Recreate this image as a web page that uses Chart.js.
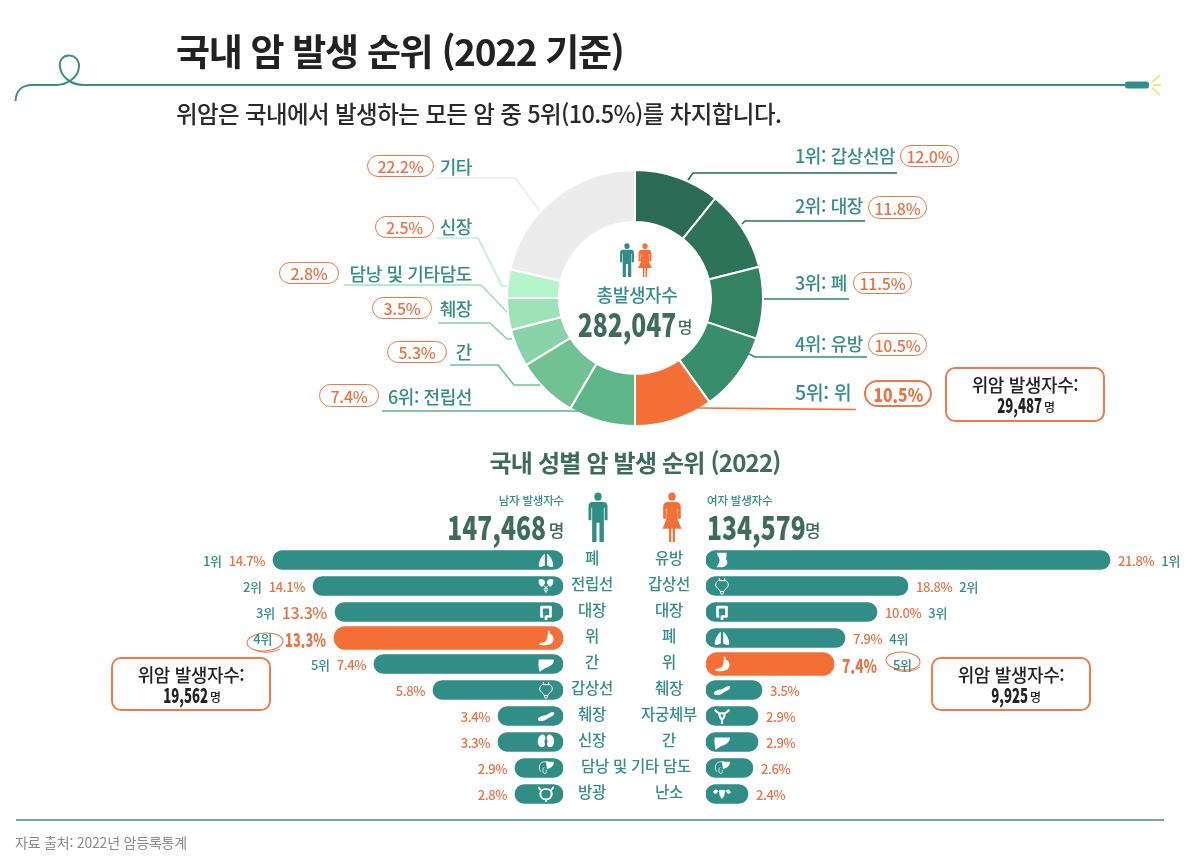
<!DOCTYPE html>
<html lang="ko">
<head>
<meta charset="utf-8">
<title>국내 암 발생 순위 (2022 기준)</title>
<script src="https://cdn.jsdelivr.net/npm/chart.js@4"></script>
<style>
html, body { margin: 0; padding: 0; background: #fff; }
#page { position: relative; width: 1186px; height: 863px; overflow: hidden; background: #fff;
        font-family: 'Noto Sans CJK KR', 'Noto Sans', sans-serif; }
#page canvas, #page svg.layer { position: absolute; }
.t { position: absolute; white-space: nowrap; line-height: 1; }
.pill, .box { position: absolute; box-sizing: border-box; background: #fff; text-align: center; }
.pill { display: flex; align-items: center; justify-content: center; border: 1.3px solid #ea7a47;
        border-radius: 12px; color: #ea7345; font-size: 16px; font-weight: 500; letter-spacing: -.2px; }
.pill.hot { border-width: 2px; border-radius: 14px; font-size: 18.5px; font-weight: 900; letter-spacing: 0; }
.pill.hot span { display: inline-block; transform: scaleX(.85); }
.box { border: 2px solid #ec7c4a; border-radius: 10px; color: #222; }
</style>
</head>
<body>
<div id="page"></div>
<script>
'use strict';
// ring: labels and printed shares, plus the arc each slice really occupies in the picture
// (the printed shares and the drawn arcs differ in the source, so both are kept)
const ringLabels = ['1위: 갑상선암', '2위: 대장', '3위: 폐', '4위: 유방', '5위: 위', '6위: 전립선', '간', '췌장', '담낭 및 기타담도', '신장', '기타'];
const ringShares = [12.0, 11.8, 11.5, 10.5, 10.5, 7.4, 5.3, 3.5, 2.8, 2.5, 22.2];
const ringArcs = [38.9, 37.0, 32.6, 35.9, 35.6, 30.4, 28.0, 17.1, 14.5, 13.0, 77.0];
const ringColors = ['#2b6a55', '#2c7359', '#338363', '#378d6c', '#f47036', '#5fb58a', '#72c192', '#88d3a7', '#9de3b8', '#b4f5cb', '#ececec'];

// men: bar lengths are read off the picture, they are not proportional to the printed %
const maleCancers = ['폐', '전립선', '대장', '위', '간', '갑상선', '췌장', '신장', '담낭 및 기타 담도', '방광'];
const maleShares = [14.7, 14.1, 13.3, 13.3, 7.4, 5.8, 3.4, 3.3, 2.9, 2.8];
const maleLengths = [290, 250, 228, 229, 189, 130, 65, 65, 48, 48];
const maleIcons = ['lung', 'prostate', 'colon', 'stomach', 'liver', 'thyroid', 'pancreas', 'kidney', 'gall', 'bladder'];

// women
const femaleCancers = ['유방', '갑상선', '대장', '폐', '위', '췌장', '자궁체부', '간', '', '난소'];
const femaleShares = [21.8, 18.8, 10.0, 7.9, 7.4, 3.5, 2.9, 2.9, 2.6, 2.4];
const femaleLengths = [404, 202, 171, 139, 128, 56, 52, 52, 47, 42];
const femaleIcons = ['breast', 'thyroid', 'colon', 'lung', 'stomach', 'pancreas', 'uterus', 'liver', 'gall', 'ovary'];

const TEAL = '#358d88', BAR_TEAL = '#308e87', ORANGE = '#f47036', TEXT_ORANGE = '#ea7345', DARK = '#3d6b5d';
const page = document.getElementById('page');

function txt(text, x, y, o) {
    o = o || {};
    let el = document.createElement('div');
    el.className = 't';
    el.textContent = text;
    el.style.left = x + 'px';
    el.style.top = y + 'px';
    el.style.fontSize = (o.size || 16) + 'px';
    el.style.fontWeight = o.weight || 500;
    el.style.color = o.color || TEAL;
    el.style.letterSpacing = (o.spacing !== undefined ? o.spacing : -0.3) + 'px';
    let shift = o.align === 'right' ? '-100%' : o.align === 'center' ? '-50%' : '0';
    el.style.transformOrigin = o.align === 'right' ? '100% 50%' : o.align === 'center' ? '50% 50%' : '0 50%';
    el.style.transform = 'translate(' + shift + ',-50%)' + (o.stretch ? ' scaleX(' + o.stretch + ')' : '');
    page.appendChild(el);
    return el;
}

// condensed heavy numbers: no narrow font is installed, so squeeze the black weight
function heavy(text, x, y, size, stretch, color, align) {
    return txt(text, x, y, { size: size, stretch: stretch, color: color, align: align, weight: 900, spacing: 0 });
}

function pill(text, x0, y0, x1, y1, hot) {
    let el = document.createElement('div');
    el.className = 'pill' + (hot ? ' hot' : '');
    let inner = document.createElement('span');
    inner.textContent = text;
    el.appendChild(inner);
    el.style.cssText = 'left:' + x0 + 'px;top:' + y0 + 'px;width:' + (x1 - x0) + 'px;height:' + (y1 - y0) + 'px;';
    page.appendChild(el);
}

function calloutBox(x0, y0, w, h, count) {
    let el = document.createElement('div');
    el.className = 'box';
    el.style.cssText = 'left:' + x0 + 'px;top:' + y0 + 'px;width:' + w + 'px;height:' + h + 'px;';
    page.appendChild(el);
    txt('위암 발생자수:', x0 + w / 2, y0 + 17, { align: 'center', size: 18, color: '#222', spacing: -0.4 });
    heavy(count, x0 + w / 2 + 17, y0 + 38, 20, 0.66, '#222', 'right');
    txt('명', x0 + w / 2 + 19, y0 + 40, { size: 12, color: '#222' });
}

function addCanvas(left, top, w, h) {
    let c = document.createElement('canvas');
    c.width = w;
    c.height = h;
    c.style.left = left + 'px';
    c.style.top = top + 'px';
    c.style.width = w + 'px';
    c.style.height = h + 'px';
    page.appendChild(c);
    return c;
}

// header, footer and all the leader lines live on one svg layer
const lines = [
    ['M688 180L693 173H897', '#2b6a55'], ['M742 224L745 221H865', '#2c7359'], ['M764 299H849', '#338363'],
    ['M735 347L755 357H867', '#378d6c'], ['M698 408L856 409.5', ORANGE],
    ['M382 411H578', '#5fb58a'], ['M450 365H498L514 385H540', '#72c192'], ['M438 323H490L507 339H512', '#88d3a7'],
    ['M344 285H481L507 312', '#9de3b8'], ['M437 238H478L502 286H507', '#b4f5cb'], ['M436 178H515L540 211', '#ececec']
];

const icons = {
    lung: '<path d="M8.7 3C5.5 5 2 11 2 16c0 2 2 2.300 4 1.300l2.700-1.300zM11.300 3c3.200 2 6.700 8 6.700 13 0 2-2 2.300-4 1.300l-2.700-1.300z"/>',
    prostate: '<path d="M2 3c3-2 7 0 7 3 0 3-3 2-3 5-2 0-5-4-4-8zM18 3c-3-2-7 0-7 3 0 3 3 2 3 5 2 0 5-4 4-8z"/><path d="M7 9l3 3 3-3M10 12v6" stroke="#fff" fill="none"/><circle cx="10" cy="14" r="2" fill="none" stroke="#fff"/>',
    colon: '<path d="M10 19v-4h5V4.500H5V15h2" fill="none" stroke="#fff" stroke-width="3" stroke-linejoin="round"/>',
    stomach: '<path d="M12 2h2v3c3 1 5 4 4 8-1 4-6 5-10 5-2 0-5 0-6-1 2-3 6-1 8-4 2-3 2-6 2-11z"/>',
    liver: '<path d="M2 5h17c0 4-3 7-8 9-3 1-6 3-8 5-1-4-2-9-1-14z"/>',
    thyroid: '<path d="M7 1v3h6V1M6 4c-2 1-3 3-3 5 0 3 4 4 5 7h4c1-3 5-4 5-7 0-2-1-4-3-5zM8 16l1 3h2l1-3" fill="none" stroke="#fff" stroke-width="1.100"/>',
    pancreas: '<path d="M1 13c3-4 8-3 11-5s6-3 7-2-1 4-4 5c-3 1-4 3-7 4-3 1-8 1-7-2z"/>',
    kidney: '<path d="M5 2c3-1 5 2 4 5-1 2-1 3 0 5 0 3-3 5-6 3C0 12 0 4 5 2zM15 2c-3-1-5 2-4 5 1 2 1 3 0 5 0 3 3 5 6 3 3-3 3-11-2-13z"/>',
    gall: '<path d="M4 14C1 9 3 3 9 3h3M8 9c-2 2-2 6 0 7s3-2 2-4" fill="none" stroke="#fff" stroke-width=".9"/><path d="M10 3h9c0 4-3 7-8 8z"/>',
    bladder: '<path d="M2 2c0 3 2 3 3 4 3-2 7-2 10 0 1-1 3-1 3-4M5 6c-3 4-1 10 5 10s8-6 5-10M10 16v3" fill="none" stroke="#fff" stroke-width="2"/>',
    breast: '<path d="M4 2h11v5c-2 2 1 3 1 6 0 3-4 5-6 5H4c2-3 4-6 3-9-1-3-2-4-3-7z"/>',
    uterus: '<path d="M2 3c2 3 3 3 5 4h6c2-1 3-1 5-4M7 7c0 4 1 5 2 6h2c1-1 2-2 2-6M10 13v6" fill="none" stroke="#fff" stroke-width="2.400"/>',
    ovary: '<path d="M7 6l1 6 2 3 2-3 1-6zM6 7C4 5 2 5 1 7s2 3 3 2M14 7c2-2 4-2 5 0s-2 3-3 2" fill="#fff" stroke="#fff"/>'
};

function drawIcon(name, cx, cy) {
    let s = document.createElementNS('http://www.w3.org/2000/svg', 'svg');
    s.setAttribute('class', 'layer');
    s.setAttribute('viewBox', '0 0 20 20');
    s.setAttribute('width', 18);
    s.setAttribute('height', 18);
    s.setAttribute('fill', '#fff');
    s.style.left = (cx - 9) + 'px';
    s.style.top = (cy - 9) + 'px';
    s.innerHTML = icons[name];
    page.appendChild(s);
}

function personSvg(left, top, w, h, female, color) {
    let s = document.createElementNS('http://www.w3.org/2000/svg', 'svg');
    s.setAttribute('class', 'layer');
    s.setAttribute('viewBox', '0 0 30 60');
    s.setAttribute('preserveAspectRatio', 'none');
    s.setAttribute('width', w);
    s.setAttribute('height', h);
    s.setAttribute('fill', color);
    s.style.left = left + 'px';
    s.style.top = top + 'px';
    s.innerHTML = '<circle cx="15" cy="5.500" r="5"/>' + (female
        ? '<path d="M9 12h12c4 0 6 3 6 6v14h-4V20h-1l1 14 5 10H19v16h-3V44h-2v16h-3V44H2l5-10 1-14H7v12H3V18c0-3 2-6 6-6z"/>'
        : '<path d="M7 12h16c3 0 5 2 5 5v17h-4V19h-1v41h-6V37h-4v23H7V19H6v15H2V17c0-3 2-5 5-5z"/>');
    page.appendChild(s);
}

// doughnut
new Chart(addCanvas(506, 169, 258, 258).getContext('2d'), {
    type: 'doughnut',
    data: {
        labels: ringLabels,
        datasets: [{ data: ringArcs, backgroundColor: ringColors, borderColor: '#fff', borderWidth: 2 }]
    },
    options: {
        responsive: false,
        animation: false,
        cutout: 76,
        plugins: { legend: { display: false }, tooltip: { enabled: false } }
    }
});

function barChart(left, width, lengths, labels, hot, reverse) {
    return new Chart(addCanvas(left, 547, width, 260).getContext('2d'), {
        type: 'bar',
        data: {
            labels: labels,
            datasets: [
                { data: lengths.map((v, i) => i === hot ? null : v), backgroundColor: BAR_TEAL, barThickness: 19, borderRadius: 10, borderSkipped: false },
                { data: lengths.map((v, i) => i === hot ? v : null), backgroundColor: ORANGE, barThickness: 23, borderRadius: 12, borderSkipped: false }
            ]
        },
        options: {
            indexAxis: 'y',
            responsive: false,
            animation: false,
            layout: { padding: 0 },
            scales: {
                x: { display: false, min: 0, max: width, reverse: reverse },
                y: { display: false, stacked: false },
            },
            datasets: { bar: { grouped: false } },
            plugins: { legend: { display: false }, tooltip: { enabled: false } }
        }
    });
}

const MALE_LEFT = 163, FEMALE_LEFT = 706, BARS_TOP = 547;
const maleChart = barChart(MALE_LEFT, 400, maleLengths, maleCancers, 3, true);
const femaleChart = barChart(FEMALE_LEFT, 410, femaleLengths, femaleCancers, 4, false);

// svg layer goes after the canvases so that the leaders sit on top of the ring
const layer = document.createElementNS('http://www.w3.org/2000/svg', 'svg');
layer.setAttribute('class', 'layer');
layer.setAttribute('width', 1186);
layer.setAttribute('height', 863);
layer.style.left = '0';
layer.style.top = '0';
let svgHtml = '<path d="M15.500 101C16 91 22 85 32 85H56C66 85 79 78 79 66 79 59 74 55.500 69 55.500 63 55.500 59 60 60 67 61 76 70 85 84 85H1126" fill="none" stroke="#3a8c87" stroke-width="2"/>' +
    '<rect x="1125" y="81.500" width="24" height="7" rx="2.500" fill="#2f8f88"/>' +
    '<path d="M1152 82L1160 75M1153 85H1161M1152 88L1160 95" stroke="#efe58a" stroke-width="2"/>' +
    '<path d="M16 820H1164" stroke="#3a8c87" stroke-width="1.500"/>' +
    '<ellipse cx="265" cy="642" rx="18" ry="9" fill="none" stroke="#ea7345" transform="rotate(-4 265 642)"/><path d="M255 650C262 653 272 653 280 649" fill="none" stroke="#ea7345"/>' +
    '<ellipse cx="903" cy="661" rx="17" ry="9" fill="none" stroke="#ea7345" transform="rotate(4 903 661)"/><path d="M894 669C902 673 912 672 920 667" fill="none" stroke="#ea7345"/>';
lines.forEach(l => { svgHtml += '<path d="' + l[0] + '" fill="none" stroke="' + l[1] + '" stroke-width="1.600"/>'; });
layer.innerHTML = svgHtml;
page.appendChild(layer);

// header
txt('국내 암 발생 순위 (2022 기준)', 176, 50, { size: 37, weight: 700, color: '#222', spacing: -1.3 });
txt('위암은 국내에서 발생하는 모든 암 중 5위(10.5%)를 차지합니다.', 176, 114, { size: 23.500, color: '#2a2a2a', spacing: -0.6 });

// ring labels
const ringLabelPos = [[795, 155], [795, 205], [795, 282], [795, 343], [795, 392], [472, 396], [472, 351], [472, 308], [472, 273], [472, 226], [472, 166]];
const ringPillPos = [[900, 145, 959, 167], [868, 196, 927, 219], [853, 272, 912, 294], [868, 333, 927, 356], [864, 380, 932, 407],
    [319, 384, 379, 407], [387, 341, 447, 363], [372, 297, 432, 319], [279, 262, 339, 284], [375, 216, 434, 238], [367, 155, 434, 177]];
ringLabels.forEach((name, i) => {
    txt(name, ringLabelPos[i][0], ringLabelPos[i][1], { size: i === 4 ? 19.500 : 18, align: i >= 5 ? 'right' : 'left', spacing: -0.4 });
    let p = ringPillPos[i];
    pill(ringShares[i].toFixed(1) + '%', p[0], p[1], p[2], p[3], i === 4);
});
calloutBox(945, 367, 160, 55, '29,487');

// middle of the ring
personSvg(619, 243, 16, 34, false, BAR_TEAL);
personSvg(637, 243, 16, 34, true, ORANGE);
txt('총발생자수', 637, 294, { size: 18, align: 'center', spacing: -0.4 });
heavy('282,047', 627, 323, 32, 0.77, DARK, 'center');
txt('명', 685, 326, { size: 16, align: 'center', color: DARK });

// second part
txt('국내 성별 암 발생 순위 (2022)', 635, 462, { size: 24, weight: 700, color: DARK, align: 'center', spacing: -0.8 });
txt('남자 발생자수', 564, 501, { size: 11.500, align: 'right', spacing: -0.2 });
heavy('147,468', 546, 526, 32, 0.77, DARK, 'right');
txt('명', 564, 529, { size: 17, align: 'right', color: DARK });
txt('여자 발생자수', 707, 501, { size: 11.500, spacing: -0.2 });
heavy('134,579', 707, 526, 32, 0.77, DARK);
txt('명', 805, 529, { size: 17, color: DARK });
personSvg(587, 492, 22, 50, false, BAR_TEAL);
personSvg(661, 492, 22, 50, true, ORANGE);
calloutBox(111, 657, 160, 54, '19,562');
calloutBox(931, 657, 160, 54, '9,925');

function rowLabels(chart, lengths, shares, iconNames, names, nameX, hot, left, isMale) {
    shares.forEach((share, i) => {
        let y = BARS_TOP + chart.scales.y.getPixelForValue(i);
        let end = left + chart.scales.x.getPixelForValue(lengths[i]);
        let label = share.toFixed(1) + '%';
        let align = isMale ? 'right' : 'left';
        let gap = isMale ? -8 : 8;
        let el = i === hot
            ? heavy(label, end + gap, y, 19, isMale ? 0.68 : 0.72, TEXT_ORANGE, align)
            : txt(label, end + gap, y, { size: i === 2 && isMale ? 16 : 13, color: TEXT_ORANGE, align: align, spacing: -0.4 });
        let w = el.getBoundingClientRect().width;
        if (i < 5) {
            let rx = isMale ? end + gap - w - 7 : end + gap + w + 7;
            if (i === hot) rx += isMale ? -6 : 9;
            txt((i + 1) + '위', rx, y, { size: 13, align: align });
        }
        drawIcon(iconNames[i], isMale ? 545.500 : 722, y);
        // the gallbladder row shares one label across the middle gap
        if (names[i]) txt(names[i], iconNames[i] === 'gall' ? 636 : nameX, y - 2, { size: 15.500, align: 'center' });
    });
}
rowLabels(maleChart, maleLengths, maleShares, maleIcons, maleCancers, 592, 3, MALE_LEFT, true);
rowLabels(femaleChart, femaleLengths, femaleShares, femaleIcons, femaleCancers, 669, 4, FEMALE_LEFT, false);

txt('자료 출처: 2022년 암등록통계', 15, 842, { size: 14, weight: 400, color: '#8a8a8a', spacing: -0.2 });
</script>
</body>
</html>
